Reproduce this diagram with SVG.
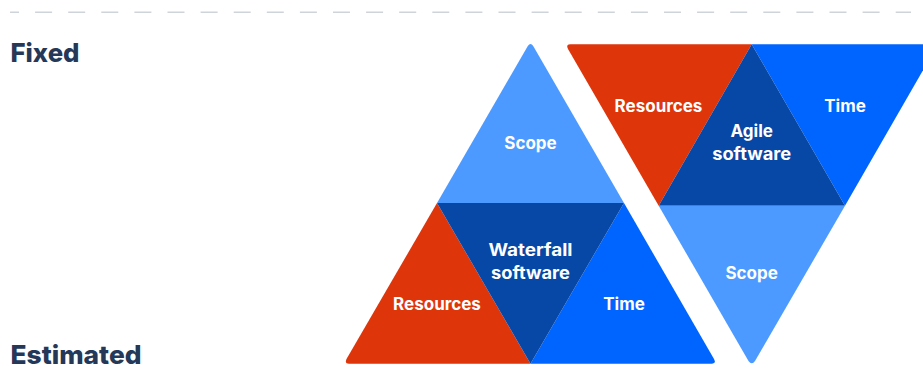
<svg xmlns="http://www.w3.org/2000/svg" width="923" height="385" viewBox="0 0 923 385">
<style>
.l{font-family:"Inter","Liberation Sans",sans-serif;font-weight:700;font-size:17px;fill:#fff;text-anchor:middle}
.h{font-family:"Inter","Liberation Sans",sans-serif;font-weight:800;font-size:26px;fill:#253858}
.red{fill:#DE350B}.dark{fill:#0747A6}.blue{fill:#0065FF}.light{fill:#4C9AFF}
</style>
<rect width="923" height="385" fill="#fff"/>
<g id="connectors"><line x1="10" y1="12.300" x2="911" y2="12.300" stroke="#CFD3DA" stroke-width="1.400" stroke-dasharray="17 16.100" stroke-dashoffset="8"/></g>
<g id="label-fixed"><text class="h" x="10.500" y="61.500" textLength="69" lengthAdjust="spacingAndGlyphs">Fixed</text></g>
<g id="label-estimated"><text class="h" x="10.500" y="364" textLength="131" lengthAdjust="spacingAndGlyphs">Estimated</text></g>
<g id="waterfall-scope"><path class="light" d="M437 203L527.800 46Q530.500 42 533.200 46L624 203Z"/><text class="l" x="530.500" y="149">Scope</text></g>
<g id="waterfall-resources"><path class="red" d="M437 203L530.500 363.700H349Q344.500 363.700 346.500 359Z"/><text class="l" x="437" y="310">Resources</text></g>
<g id="waterfall-time"><path class="blue" d="M624 203L714 359Q716.500 363.700 711.500 363.700H530.500Z"/><text class="l" x="624" y="310">Time</text></g>
<g id="waterfall-core"><path class="dark" d="M437 203H624L530.500 363.700Z"/><text class="l" x="530.500" y="255.500" textLength="84" lengthAdjust="spacingAndGlyphs">Waterfall</text><text class="l" x="530.500" y="279" textLength="79" lengthAdjust="spacingAndGlyphs">software</text></g>
<g id="agile-resources"><path class="red" d="M751.700 44.300L658.700 205.700L568 49Q565.500 44.300 570.500 44.300Z"/><text class="l" x="658.500" y="112">Resources</text></g>
<g id="agile-time"><path class="blue" d="M751.700 44.300H938L845 205.700Z"/><text class="l" x="845" y="112">Time</text></g>
<g id="agile-core"><path class="dark" d="M751.700 44.300L845 205.700H658.700Z"/><text class="l" x="751.700" y="136.500">Agile</text><text class="l" x="751.700" y="160" textLength="79" lengthAdjust="spacingAndGlyphs">software</text></g>
<g id="agile-scope"><path class="light" d="M658.700 205.700H845L755 361Q751.700 365.500 748.500 361Z"/><text class="l" x="751.700" y="279">Scope</text></g>
</svg>
